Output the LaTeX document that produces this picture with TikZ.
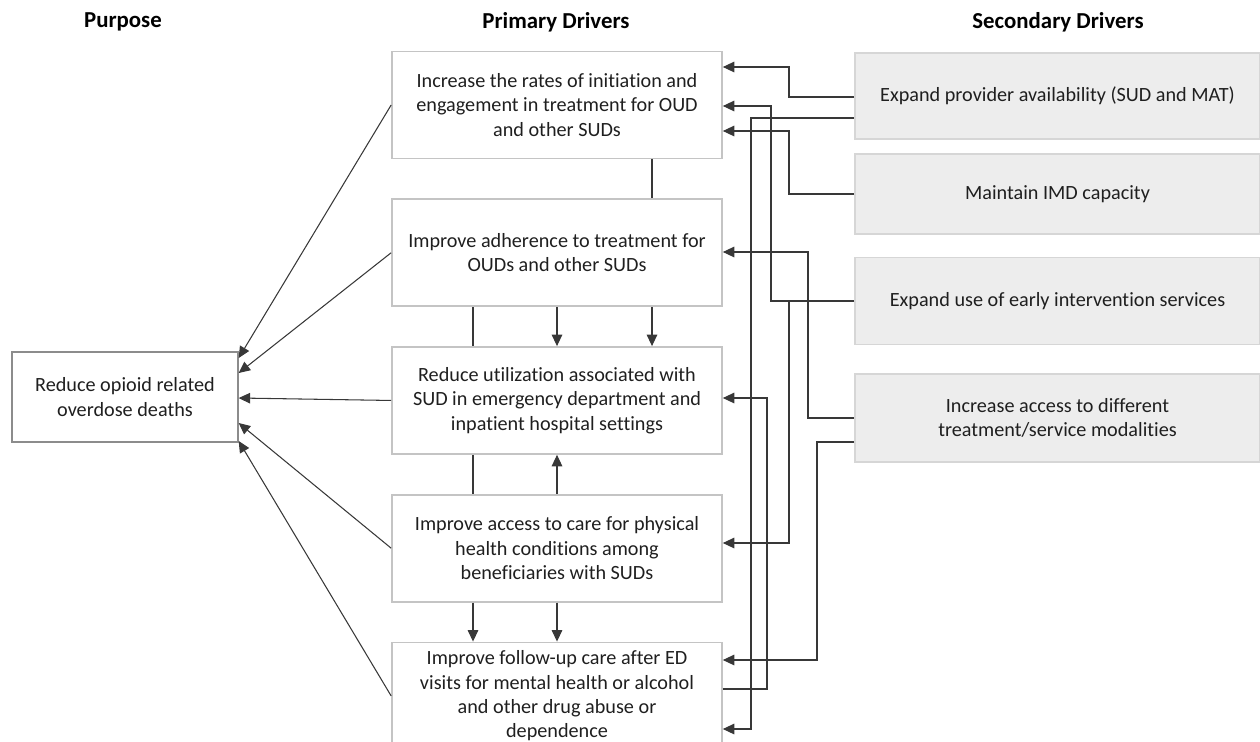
\documentclass[tikz,border=0pt]{standalone}
\usepackage{fontspec}
\setmainfont{Carlito}[Ligatures=NoCommon]
\usetikzlibrary{arrows.meta}
\usetikzlibrary{positioning}
\definecolor{primline}{HTML}{C4C4C4}
\definecolor{secfill}{HTML}{EDEDED}
\definecolor{secline}{HTML}{D6D6D6}
\definecolor{purpline}{HTML}{8C8C8C}
\definecolor{linkcol}{HTML}{383838}

\begin{document}
\begin{tikzpicture}[x=0.02cm,y=-0.02cm,
    every node/.style={font=\fontsize{11.5}{13.9}\selectfont,align=center,text=black!88},
    head/.style={font=\fontsize{13}{15}\selectfont\bfseries,text=black},
    prim/.style={draw=primline,line width=1pt,minimum width=6.6cm,minimum height=2.14cm},
    sec/.style={draw=secline,fill=secfill,line width=1pt,minimum width=8.1cm},
    purp/.style={draw=purpline,line width=0.8pt,minimum width=4.52cm,minimum height=1.8cm},
    link/.style={draw=linkcol,line width=0.6pt},
    arr/.style={link,-{Triangle[length=6.5pt,width=6pt]}}]
  \useasboundingbox (0,0) rectangle (1260,741);

  % headings
  \node[head] (hpur) at (123,22) {Purpose};
  \node[head] (hprim) at (556,22) {Primary Drivers};
  \node[head] (hsec) at (1058,22) {Secondary Drivers};

  % primary drivers
  \node[prim] (p1) at (557,105) {Increase the rates of initiation and\\engagement in treatment for OUD\\and other SUDs};
  \node[prim,below=0.78cm of p1] (p2) {Improve adherence to treatment for\\OUDs and other SUDs};
  \node[prim,below=0.78cm of p2] (p3) {Reduce utilization associated with\\SUD in emergency department and\\inpatient hospital settings};
  \node[prim,below=0.78cm of p3] (p4) {Improve access to care for physical\\health conditions among\\beneficiaries with SUDs};
  \node[prim,below=0.78cm of p4] (p5) {Improve follow-up care after ED\\visits for mental health or alcohol\\and other drug abuse or\\dependence};

  % purpose
  \node[purp] (pur) at (125,397) {Reduce opioid related\\overdose deaths};

  % secondary drivers
  \node[sec,minimum height=1.72cm] (s1) at (1057.5,96) {Expand provider availability (SUD and MAT)};
  \node[sec,minimum height=1.6cm] (s2) at (1057.5,194) {Maintain IMD capacity};
  \node[sec,minimum height=1.74cm] (s3) at (1057.5,301) {Expand use of early intervention services};
  \node[sec,minimum height=1.76cm] (s4) at (1057.5,418) {Increase access to different\\treatment/service modalities};

  % primary drivers -> purpose
  \foreach \p/\y in {p1/358,p2/373,p3/398,p4/423,p5/441}
    \draw[arr] (\p.west) -- (pur.east |- 0,\y);

  % between primary drivers
  \draw[link] (p1.south -| 652,0) -- (p2.north -| 652,0);
  \draw[link] (p2.south -| 473,0) -- (p3.north -| 473,0);
  \draw[arr] (p2.south) -- (p3.north);
  \draw[arr] (p2.south -| 652,0) -- (p3.north -| 652,0);
  \draw[link] (p3.south -| 473,0) -- (p4.north -| 473,0);
  \draw[arr] (p4.north) -- (p3.south);
  \draw[arr] (p4.south -| 473,0) -- (p5.north -| 473,0);
  \draw[arr] (p4.south) -- (p5.north);

  % secondary drivers -> primary drivers
  \draw[arr] (s1.west |- 0,97) -- (789,97) |- (p1.east |- 0,67);
  \draw[arr] (s1.west |- 0,118) -- (751,118) |- (p5.east |- 0,729);
  \draw[arr] (s2.west) -- (789,194) |- (p1.east |- 0,131);
  \draw[arr] (s3.west) -- (771,301) |- (p1.east |- 0,106);
  \draw[arr] (s3.west) -- (789,301) |- (p4.east |- 0,543);
  \draw[arr] (s4.west |- 0,418) -- (808,418) |- (p2.east |- 0,252);
  \draw[arr] (s4.west |- 0,442) -- (817,442) |- (p5.east |- 0,660);
  \draw[arr] (p5.east |- 0,689) -- (767,689) |- (p3.east |- 0,398);
\end{tikzpicture}
\end{document}
